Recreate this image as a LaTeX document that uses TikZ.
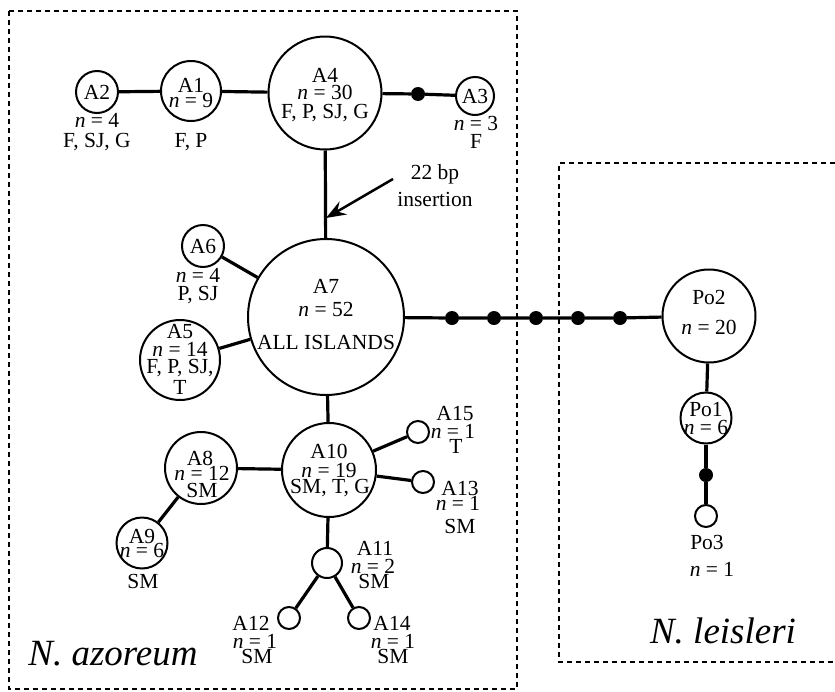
\documentclass[tikz,border=0pt]{standalone}
\usepackage{fontspec}
\setmainfont{Liberation Serif}
\usetikzlibrary{arrows.meta}
\begin{document}
\begin{tikzpicture}[x=1pt,y=-1pt,
  hap/.style={circle,draw,line width=2pt,inner sep=0pt,minimum size=#1},
  mut/.style={circle,fill=black,inner sep=0pt,minimum size=14pt},
  conn/.style={line width=3.2pt},
  lab/.style={anchor=base,inner sep=0pt,font=\fontsize{21.5}{21.5}\selectfont},
  big/.style={anchor=base,inner sep=0pt,font=\fontsize{37}{37}\selectfont\itshape},
  box/.style={line width=1.6pt,dash pattern=on 5pt off 4pt}]
\useasboundingbox (0,0) rectangle (835,691);
% boxes
\draw[box] (9,11) rectangle (517,689);
\draw[box] (835,163) -- (559,163) -- (559,662) -- (835,662);
% haplotype circles
\node[hap=42pt] (A2) at (97,92) {};
\node[hap=60pt] (A1) at (191,91) {};
\node[hap=113pt] (A4) at (325,93) {};
\node[mut] (m1) at (418,94) {};
\node[hap=38pt] (A3) at (475,96) {};
\node[hap=156pt] (A7) at (326,317) {};
\node[hap=42pt] (A6) at (203,246) {};
\node[hap=80pt] (A5) at (180,360) {};
\node[hap=94pt] (A10) at (329,470) {};
\node[hap=72pt] (A8) at (201,468) {};
\node[hap=51pt] (A9) at (142,543) {};
\node[hap=22pt] (A15) at (418,432) {};
\node[hap=22pt] (A13) at (423,482) {};
\node[hap=30pt] (A11) at (327,563) {};
\node[hap=22pt] (A12) at (289,618) {};
\node[hap=22pt] (A14) at (359,618) {};
\node[mut] (m2) at (452,318) {};
\node[mut] (m3) at (494,318) {};
\node[mut] (m4) at (536,318) {};
\node[mut] (m5) at (578,318) {};
\node[mut] (m6) at (620,318) {};
\node[hap=93pt] (Po2) at (709,316) {};
\node[hap=51pt] (Po1) at (706,418) {};
\node[mut] (m7) at (706,475) {};
\node[hap=22pt] (Po3) at (706,516) {};
% connectors
\draw[conn] (A2) -- (A1);
\draw[conn] (A1) -- (A4);
\draw[conn] (A4) -- (m1) -- (A3);
\draw[conn] (A4) -- (A7);
\draw[conn] (A6) -- (A7);
\draw[conn] (A5) -- (A7);
\draw[conn] (A7) -- (A10);
\draw[conn] (A8) -- (A10);
\draw[conn] (A8) -- (A9);
\draw[conn] (A10) -- (A15);
\draw[conn] (A10) -- (A13);
\draw[conn] (A10) -- (A11);
\draw[conn] (A11) -- (A12);
\draw[conn] (A11) -- (A14);
\draw[conn] (A7) -- (m2) -- (m3) -- (m4) -- (m5) -- (m6) -- (Po2);
\draw[conn] (Po2) -- (Po1);
\draw[conn] (Po1) -- (m7) -- (Po3);
% insertion arrow
\coordinate (arS) at (393,179);
\coordinate (arE) at (326,218);
\draw[line width=2.5pt,-{Stealth[length=20pt,width=15pt,inset=7pt]}] (arS) -- (arE);
\node[lab] (ins1) at (435,179) {22 bp};
\node[lab] (ins2) at (435,206) {insertion};
% labels
\node[lab] (tA2) at (97,99) {A2};
\node[lab] (nA2) at (97,127) {\textit{n} = 4};
\node[lab] (sA2) at (97,147) {F, SJ, G};
\node[lab] (tA1) at (191,92) {A1};
\node[lab] (nA1) at (191,107) {\textit{n} = 9};
\node[lab] (sA1) at (191,147) {F, P};
\node[lab] (tA4) at (325,82) {A4};
\node[lab] (nA4) at (325,99) {\textit{n} = 30};
\node[lab] (sA4) at (325,118) {F, P, SJ, G};
\node[lab] (tA3) at (475,103) {A3};
\node[lab] (nA3) at (476,130) {\textit{n} = 3};
\node[lab] (sA3) at (476,148) {F};
\node[lab] (tA7) at (326,293) {A7};
\node[lab] (nA7) at (326,316) {\textit{n} = 52};
\node[lab] (sA7) at (326,349) {ALL ISLANDS};
\node[lab] (tA6) at (203,253) {A6};
\node[lab] (nA6) at (198,282) {\textit{n} = 4};
\node[lab] (sA6) at (198,300) {P, SJ};
\node[lab] (tA5) at (180,338) {A5};
\node[lab] (nA5) at (180,356) {\textit{n} = 14};
\node[lab] (sA5) at (180,373) {F, P, SJ,};
\node[lab] (uA5) at (180,394) {T};
\node[lab] (tA10) at (329,458) {A10};
\node[lab] (nA10) at (329,477) {\textit{n} = 19};
\node[lab] (sA10) at (330,493) {SM, T, G};
\node[lab] (tA8) at (200,465) {A8};
\node[lab] (nA8) at (202,480) {\textit{n} = 12};
\node[lab] (sA8) at (202,497) {SM};
\node[lab] (tA9) at (142,543) {A9};
\node[lab] (nA9) at (142,557) {\textit{n} = 6};
\node[lab] (sA9) at (143,588) {SM};
\node[lab] (tA15) at (455,420) {A15};
\node[lab] (nA15) at (453,438) {\textit{n} = 1};
\node[lab] (sA15) at (456,453) {T};
\node[lab] (tA13) at (460,495) {A13};
\node[lab] (nA13) at (458,510) {\textit{n} = 1};
\node[lab] (sA13) at (460,533) {SM};
\node[lab] (tA11) at (375,555) {A11};
\node[lab] (nA11) at (373,573) {\textit{n} = 2};
\node[lab] (sA11) at (374,588) {SM};
\node[lab] (tA12) at (251,630) {A12};
\node[lab] (nA12) at (255,648) {\textit{n} = 1};
\node[lab] (sA12) at (257,663) {SM};
\node[lab] (tA14) at (392,630) {A14};
\node[lab] (nA14) at (393,648) {\textit{n} = 1};
\node[lab] (sA14) at (393,663) {SM};
\node[lab] (tPo2) at (709,304) {Po2};
\node[lab] (nPo2) at (709,334) {\textit{n} = 20};
\node[lab] (tPo1) at (706,416) {Po1};
\node[lab] (nPo1) at (706,434) {\textit{n} = 6};
\node[lab] (tPo3) at (707,549) {Po3};
\node[lab] (nPo3) at (712,576) {\textit{n} = 1};
\node[big] (Naz) at (113,665) {N. azoreum};
\node[big] (Nle) at (723,643) {N. leisleri};
\end{tikzpicture}
\end{document}
